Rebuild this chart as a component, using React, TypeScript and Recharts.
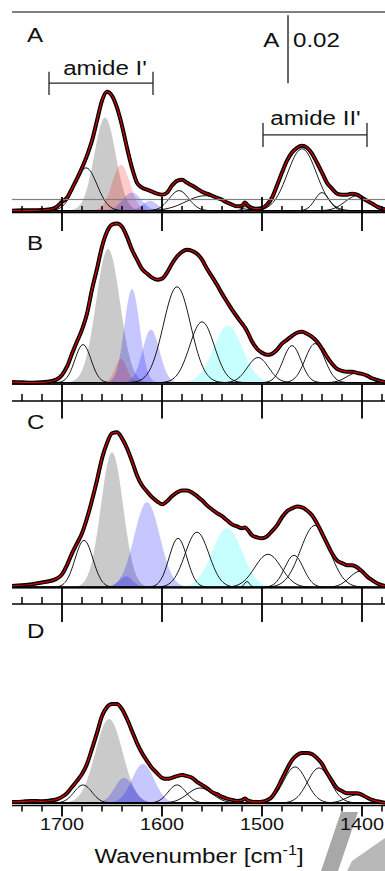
import React from 'react';
import { ComposedChart, Line, Area, XAxis, YAxis, ReferenceLine } from 'recharts';

// ---------- data (absorbance in mOD, wavenumber in cm^-1) ----------
const wavenumbers = [
  1750, 1740, 1730, 1720, 1710, 1705,
  1700, 1695, 1690, 1685, 1680, 1675, 1670, 1665, 1660, 1655,
  1650, 1645, 1640, 1635, 1630, 1625, 1620, 1615, 1610, 1605,
  1600, 1595, 1590, 1585, 1580, 1575, 1570, 1565, 1560, 1555,
  1550, 1545, 1540, 1535, 1530, 1525, 1520, 1517, 1514, 1510,
  1505, 1500, 1495, 1490, 1485, 1480, 1475, 1470, 1465, 1460,
  1455, 1450, 1445, 1440, 1435, 1430, 1425, 1420, 1415, 1410,
  1405, 1400, 1395, 1390, 1385, 1380, 1377,
];

const spectrumA = [
  0.0, 0.1, 0.1, 0.2, 0.5, 1.2,
  2.6, 3.8, 6.5, 9.4, 12.6, 16.2, 20.6, 26.5, 32.4, 35.0,
  33.8, 30.3, 25.0, 18.5, 12.6, 8.2, 6.8, 6.2, 5.6, 5.0,
  4.7, 5.3, 7.4, 8.8, 9.1, 8.2, 7.4, 6.5, 5.6, 5.0,
  4.4, 3.8, 3.2, 2.4, 1.8, 1.3, 1.5, 2.4, 1.5, 0.8,
  0.6, 0.8, 1.8, 3.8, 7.4, 11.2, 14.7, 17.1, 18.5, 19.1,
  18.5, 16.8, 14.1, 11.2, 8.2, 6.5, 5.0, 4.7, 4.7, 5.0,
  4.7, 3.8, 2.9, 2.1, 1.2, 0.6, 0.4,
];

const spectrumB = [
  0.2, 0.1, 0.0, 0.1, 0.5, 1.0,
  2.3, 4.7, 8.5, 12.1, 15.6, 20.3, 27.4, 33.5, 40.0, 44.4,
  46.5, 46.8, 45.9, 42.9, 39.1, 36.2, 33.5, 32.1, 30.9, 30.3,
  30.6, 32.4, 35.0, 37.1, 38.5, 39.1, 38.8, 37.9, 36.2, 33.5,
  31.2, 28.8, 26.2, 23.8, 21.5, 19.4, 17.4, 16.2, 14.6, 12.1,
  10.0, 8.8, 8.2, 8.5, 9.7, 11.5, 12.6, 13.8, 14.7, 15.0,
  14.4, 13.5, 12.1, 10.0, 7.6, 5.6, 4.1, 3.5, 3.2, 3.2,
  2.9, 2.6, 2.1, 1.3, 0.8, 0.4, 0.2,
];

const spectrumC = [
  0.4, 0.6, 0.9, 1.4, 2.0, 2.6,
  3.8, 6.5, 10.0, 12.9, 15.9, 20.3, 25.6, 31.5, 37.9, 42.4,
  45.3, 45.6, 43.8, 40.9, 37.1, 32.9, 30.0, 28.2, 26.5, 25.3,
  24.4, 25.3, 26.8, 27.9, 28.5, 28.5, 27.9, 26.8, 25.6, 24.1,
  22.9, 21.8, 20.9, 19.7, 18.5, 17.9, 17.4, 17.6, 16.8, 15.3,
  14.7, 14.4, 15.0, 16.5, 18.2, 20.6, 22.4, 23.2, 23.8, 23.5,
  22.6, 21.2, 18.8, 15.9, 12.9, 10.0, 7.9, 7.1, 6.5, 6.5,
  5.9, 4.7, 3.2, 2.1, 1.2, 0.6, 0.4,
];

const spectrumD = [
  0.3, 0.4, 0.6, 0.5, 0.8, 1.1,
  1.8, 2.9, 4.7, 6.5, 8.5, 11.5, 15.9, 20.6, 25.6, 28.2,
  29.1, 29.1, 27.6, 24.7, 21.2, 17.6, 14.7, 12.4, 10.3, 8.8,
  7.4, 7.1, 7.4, 7.9, 8.2, 7.9, 7.4, 6.2, 5.3, 4.4,
  3.2, 2.6, 1.8, 1.3, 0.9, 0.6, 0.8, 1.3, 0.7, 0.4,
  0.3, 0.4, 0.8, 1.8, 4.1, 7.1, 10.0, 12.6, 14.1, 14.7,
  14.7, 14.4, 13.2, 11.5, 8.8, 6.5, 4.4, 3.5, 2.9, 2.9,
  2.9, 2.4, 1.6, 0.9, 0.5, 0.2, 0.1,
];

// Gaussian band components: centre, peak height (mOD), FWHM, assignment
const bandCentersA = [1676, 1657, 1641, 1630, 1612, 1583, 1557, 1517, 1460, 1440, 1405];
const bandHeightsA = [12.6, 27.4, 13.5, 5.3, 2.9, 5.9, 4.4, 1.2, 18.2, 5.3, 4.4];
const bandWidthsA = [26, 25, 21, 22, 18, 23, 45, 7, 34, 17, 28];
const bandKindsA = ['other', 'helix', 'coil', 'sheet', 'sheet', 'other', 'other', 'other', 'other', 'other', 'other'];

const bandCentersB = [1679, 1654, 1641, 1630, 1611, 1585, 1560, 1534, 1504, 1470, 1447, 1405];
const bandHeightsB = [11.2, 39.4, 7.1, 27.6, 15.6, 28.2, 17.9, 16.8, 7.4, 10.9, 11.5, 2.9];
const bandWidthsB = [19, 28, 14, 18, 20, 32, 29, 34, 25, 21, 23, 24];
const bandKindsB = ['other', 'helix', 'coil', 'sheet', 'sheet', 'other', 'other', 'sidechain', 'other', 'other', 'other', 'other'];

const bandCentersC = [1678, 1650, 1636, 1615, 1584, 1565, 1535, 1515, 1494, 1468, 1447, 1402];
const bandHeightsC = [13.8, 39.7, 3.2, 25.0, 14.4, 16.2, 17.4, 1.7, 9.7, 9.4, 18.2, 4.7];
const bandWidthsC = [21, 26, 16, 30, 21, 28, 35, 6, 31, 22, 34, 25];
const bandKindsC = ['other', 'helix', 'sheet', 'sheet', 'other', 'other', 'sidechain', 'other', 'other', 'other', 'other', 'other'];

const bandCentersD = [1679, 1653, 1638, 1619, 1585, 1562, 1467, 1443, 1405];
const bandHeightsD = [5.3, 24.7, 7.4, 11.5, 5.3, 4.4, 10.6, 10.3, 2.4];
const bandWidthsD = [21, 32, 22, 26, 21, 29, 27, 27, 25];
const bandKindsD = ['other', 'helix', 'sheet', 'sheet', 'other', 'other', 'other', 'other', 'other'];

const axisTicks = [1740, 1720, 1700, 1680, 1660, 1640, 1620, 1600, 1580, 1560, 1540, 1520, 1500, 1480, 1460, 1440, 1420, 1400, 1380];
const xDomain = [1377, 1750];
const scaleBarMOD = 20; // 0.02 absorbance

// ---------- styling / layout ----------
const FONT = '"Liberation Sans", Arial, Helvetica, sans-serif';
const kindStyle: Record<string, { fill: string; opacity: number } | null> = {
  helix: { fill: '#808080', opacity: 0.42 },
  coil: { fill: '#ff0000', opacity: 0.2 },
  sheet: { fill: '#0000ff', opacity: 0.22 },
  sidechain: { fill: '#00ffff', opacity: 0.22 },
  other: null,
};

const gridPoints: number[] = [];
for (let w = xDomain[1]; w >= xDomain[0]; w -= 1) gridPoints.push(w);

function bandSeries(c: number, h: number, f: number) {
  return gridPoints.map((w) => ({ w, v: h * Math.exp((-4 * Math.LN2 * (w - c) * (w - c)) / (f * f)) }));
}

function spectrumSeries(vals: number[]) {
  return wavenumbers.map((w, i) => ({ w, v: vals[i] }));
}

type TickCfg = {
  upper: number | null;
  upperColor: string;
  minor: [number, number];
  major: [number, number];
  labels: boolean;
};

function makeTick(cfg: TickCfg) {
  return (props: any) => {
    const { x, y, payload } = props;
    const v = payload.value;
    const isMajor = v % 100 === 0;
    const seg = isMajor ? cfg.major : cfg.minor;
    return (
      <g>
        {cfg.upper !== null && (
          <line x1={x - 10} x2={x + 10} y1={y + cfg.upper} y2={y + cfg.upper} stroke={cfg.upperColor} strokeWidth={1.2} />
        )}
        <line x1={x} x2={x} y1={y + seg[0]} y2={y + seg[1]} stroke="#000" strokeWidth={isMajor ? 1.8 : 1.5} />
        {cfg.labels && isMajor && (
          <text
            transform={`translate(${x},${y + 24.5}) scale(1.2,1)`}
            textAnchor="middle"
            fontSize={16.5}
            fontFamily={FONT}
            fill="#111"
          >
            {v}
          </text>
        )}
      </g>
    );
  };
}

const panels = [
  {
    id: 'A', top: 0, height: 232, marginTop: 12, axisHeight: 19.5, domain: [-0.53, 58.44],
    spectrum: spectrumA, centers: bandCentersA, heights: bandHeightsA, widths: bandWidthsA, kinds: bandKindsA,
    tick: { upper: -13, upperColor: '#808080', minor: [-6.5, 0], major: [-15.5, 18.5], labels: false } as TickCfg,
  },
  {
    id: 'B', top: 200, height: 220, marginTop: 12.5, axisHeight: 19, domain: [-5.38, 50.06],
    spectrum: spectrumB, centers: bandCentersB, heights: bandHeightsB, widths: bandWidthsB, kinds: bandKindsB,
    tick: { upper: -16.7, upperColor: '#000', minor: [-7, 0], major: [-17, 17.5], labels: false } as TickCfg,
  },
  {
    id: 'C', top: 390, height: 234, marginTop: 11, axisHeight: 20, domain: [-4.91, 54.79],
    spectrum: spectrumC, centers: bandCentersC, heights: bandHeightsC, widths: bandWidthsC, kinds: bandKindsC,
    tick: { upper: -16, upperColor: '#000', minor: [-7, 0], major: [-16, 18], labels: false } as TickCfg,
  },
  {
    id: 'D', top: 594, height: 277, marginTop: 10, axisHeight: 65.5, domain: [-0.74, 58.53],
    spectrum: spectrumD, centers: bandCentersD, heights: bandHeightsD, widths: bandWidthsD, kinds: bandKindsD,
    tick: { upper: null, upperColor: '#000', minor: [0, 6], major: [0, 11], labels: true } as TickCfg,
  },
];

function Panel({ p }: { p: (typeof panels)[number] }) {
  const bands = p.centers.map((c, i) => ({ kind: p.kinds[i], data: bandSeries(c, p.heights[i], p.widths[i]) }));
  const spec = spectrumSeries(p.spectrum);
  return (
    <div style={{ position: 'absolute', left: 0, top: p.top }}>
      <ComposedChart width={385} height={p.height} margin={{ top: p.marginTop, right: 0, left: 12, bottom: 0 }}>
        <XAxis
          type="number"
          dataKey="w"
          domain={xDomain}
          reversed
          allowDataOverflow
          ticks={axisTicks}
          interval={0}
          tickSize={0}
          tickMargin={0}
          tickLine={false}
          height={p.axisHeight}
          axisLine={{ stroke: '#000', strokeWidth: 1.5 }}
          tick={makeTick(p.tick)}
        />
        <YAxis
          type="number"
          domain={p.domain}
          allowDataOverflow
          width={0}
          tick={false}
          tickLine={false}
          axisLine={{ stroke: '#000', strokeWidth: 1.5 }}
        />
        {p.id === 'A' && <ReferenceLine y={p.domain[1]} stroke="#808080" strokeWidth={2} />}
        {bands.map((b, i) => {
          const st = kindStyle[b.kind];
          return st ? (
            <Area
              key={'f' + i}
              data={b.data}
              dataKey="v"
              type="linear"
              stroke="none"
              fill={st.fill}
              fillOpacity={st.opacity}
              isAnimationActive={false}
              dot={false}
              activeDot={false}
            />
          ) : null;
        })}
        <ReferenceLine y={0} stroke="#2a2050" strokeWidth={1.5} />
        {bands.map((b, i) =>
          kindStyle[b.kind] ? null : (
            <Line
              key={'l' + i}
              data={b.data}
              dataKey="v"
              type="linear"
              stroke="#000"
              strokeWidth={0.9}
              dot={false}
              activeDot={false}
              isAnimationActive={false}
            />
          )
        )}
        <Line
          data={spec}
          dataKey="v"
          type="monotone"
          stroke="#000"
          strokeWidth={4}
          dot={false}
          activeDot={false}
          isAnimationActive={false}
        />
        <Line
          data={spec}
          dataKey="v"
          type="monotone"
          stroke="#e00000"
          strokeWidth={1.2}
          dot={false}
          activeDot={false}
          isAnimationActive={false}
        />
        {p.id === 'A' && (
          <ReferenceLine segment={[{ x: 1474, y: 37.5 }, { x: 1474, y: 37.5 + scaleBarMOD }]} stroke="#333" strokeWidth={1.5} />
        )}
        {p.id === 'A' && <ReferenceLine segment={[{ x: 1713, y: 37.5 }, { x: 1609, y: 37.5 }]} stroke="#222" strokeWidth={1.3} />}
        {p.id === 'A' && <ReferenceLine segment={[{ x: 1713, y: 34.0 }, { x: 1713, y: 40.9 }]} stroke="#222" strokeWidth={1.3} />}
        {p.id === 'A' && <ReferenceLine segment={[{ x: 1609, y: 34.0 }, { x: 1609, y: 40.9 }]} stroke="#222" strokeWidth={1.3} />}
        {p.id === 'A' && <ReferenceLine segment={[{ x: 1499, y: 22.3 }, { x: 1395, y: 22.3 }]} stroke="#222" strokeWidth={1.3} />}
        {p.id === 'A' && <ReferenceLine segment={[{ x: 1499, y: 18.7 }, { x: 1499, y: 25.8 }]} stroke="#222" strokeWidth={1.3} />}
        {p.id === 'A' && <ReferenceLine segment={[{ x: 1395, y: 18.7 }, { x: 1395, y: 25.8 }]} stroke="#222" strokeWidth={1.3} />}
      </ComposedChart>
    </div>
  );
}

function Txt({ x, y, children, anchor = 'start', size = 21, sx = 1.15 }: any) {
  return (
    <text
      transform={`translate(${x},${y}) scale(${sx},1)`}
      textAnchor={anchor}
      fontSize={size}
      fontFamily={FONT}
      fill="#111"
    >
      {children}
    </text>
  );
}

export default function App() {
  return (
    <div style={{ position: 'absolute', left: 0, top: 0, width: 385, height: 871, background: '#fff', overflow: 'hidden' }}>
      {/* faint decorative watermark behind the figure (bottom-right corner) */}
      <svg width={385} height={871} style={{ position: 'absolute', left: 0, top: 0, pointerEvents: 'none' }}>
        <polygon points="341,812 358,812 338,871 321,871" fill="#a8a8a8" />
        <polygon points="352,861 385,838 385,871 347,871" fill="#b8b8b8" />
      </svg>
      {panels.map((p) => (
        <Panel key={p.id} p={p} />
      ))}
      <svg width={385} height={871} style={{ position: 'absolute', left: 0, top: 0, pointerEvents: 'none' }}>
        <Txt x={27} y={42}>A</Txt>
        <Txt x={27} y={250}>B</Txt>
        <Txt x={27} y={428.5}>C</Txt>
        <Txt x={27} y={638}>D</Txt>
        <Txt x={105} y={75} anchor="middle">amide I'</Txt>
        <Txt x={315.5} y={125} anchor="middle">amide II'</Txt>
        <Txt x={263.3} y={46.7}>A</Txt>
        <Txt x={293} y={46.7}>0.02</Txt>
        <text transform="translate(199,863) scale(1.15,1)" textAnchor="middle" fontSize={21} fontFamily={FONT} fill="#111">
          Wavenumber [cm
          <tspan dy={-8} fontSize={14}>-1</tspan>
          <tspan dy={8}>]</tspan>
        </text>
      </svg>
    </div>
  );
}
